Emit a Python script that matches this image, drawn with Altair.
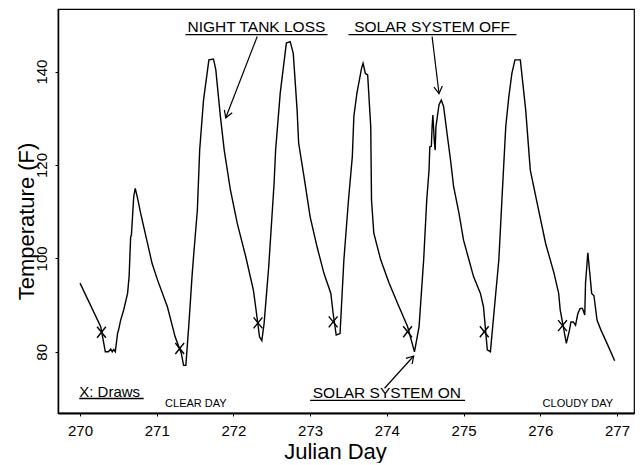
import math
import altair as alt
import pandas as pd

# ---- data ----
days = [270.00, 270.27, 270.31, 270.33, 270.37, 270.40, 270.42, 270.44, 270.46, 270.49,
        270.50, 270.53, 270.57, 270.62, 270.64, 270.66, 270.67, 270.70, 270.72, 270.75,
        270.79, 270.88, 270.94, 271.01, 271.14, 271.24, 271.32, 271.35, 271.38, 271.42,
        271.46, 271.48, 271.53, 271.56, 271.61, 271.68, 271.74, 271.77, 271.80, 271.83,
        271.88, 271.96, 272.05, 272.16, 272.26, 272.29, 272.34, 272.37, 272.40, 272.46,
        272.53, 272.55, 272.61, 272.69, 272.74, 272.78, 272.83, 272.85, 272.92, 273.00,
        273.09, 273.18, 273.27, 273.30, 273.34, 273.39, 273.44, 273.50, 273.55, 273.57,
        273.61, 273.67, 273.69, 273.72, 273.75, 273.79, 273.80, 273.83, 273.92, 274.03,
        274.16, 274.27, 274.36, 274.42, 274.48, 274.52, 274.55, 274.56, 274.58, 274.59,
        274.60, 274.62, 274.63, 274.64, 274.68, 274.71, 274.74, 274.79, 274.83, 274.87,
        274.94, 275.00, 275.07, 275.13, 275.22, 275.26, 275.31, 275.35, 275.40, 275.46,
        275.50, 275.55, 275.59, 275.63, 275.67, 275.74, 275.81, 275.87, 275.96, 276.07,
        276.18, 276.24, 276.26, 276.34, 276.38, 276.40, 276.43, 276.46, 276.49, 276.52,
        276.55, 276.58, 276.59, 276.62, 276.65, 276.67, 276.70, 276.74, 276.79, 276.87,
        276.97]
temps = [94.7, 85.4, 81.8, 80.0, 80.0, 80.6, 80.0, 80.5, 80.0, 84.0,
         84.5, 86.8, 89.0, 92.5, 96.1, 104.6, 105.0, 113.2, 115.0, 112.9,
         109.7, 103.2, 98.9, 95.4, 89.6, 83.2, 79.7, 77.1, 77.1, 86.1,
         96.1, 100.4, 110.4, 123.2, 133.9, 142.5, 142.7, 140.4, 135.4, 130.4,
         123.2, 114.7, 107.5, 100.4, 93.2, 89.6, 83.2, 82.4, 86.1, 98.2,
         116.1, 123.2, 135.4, 146.1, 146.4, 143.9, 131.8, 124.7, 117.5, 108.9,
         102.5, 96.8, 92.5, 88.2, 83.6, 83.9, 99.7, 112.5, 121.8, 130.4,
         135.4, 140.7, 141.8, 139.6, 139.3, 128.2, 112.5, 105.4, 99.7, 94.7,
         89.6, 85.4, 80.0, 85.4, 99.7, 112.5, 118.9, 123.9, 124.0, 128.2,
         130.7, 124.7, 123.2, 128.2, 132.9, 133.9, 132.5, 126.1, 121.1, 115.4,
         109.7, 103.9, 99.7, 96.1, 92.5, 89.6, 80.4, 80.0, 89.0, 99.7,
         112.5, 128.2, 134.6, 139.6, 142.5, 142.5, 131.8, 118.9, 111.8, 103.2,
         96.8, 92.5, 89.0, 81.8, 84.6, 86.4, 86.4, 85.7, 88.2, 89.3,
         89.3, 87.9, 94.7, 101.2, 96.1, 92.5, 92.0, 86.8, 84.7, 81.8,
         78.1]

draw_days = [270.28, 271.30, 272.32, 273.30, 274.27, 275.27, 276.29]
draw_temps = [84.2, 80.7, 86.2, 86.4, 84.3, 84.3, 85.6]

x_ticks = [270, 271, 272, 273, 274, 275, 276, 277]
y_ticks = [80, 100, 120, 140]

big_labels = ["NIGHT TANK LOSS", "SOLAR SYSTEM OFF", "SOLAR SYSTEM ON"]
big_label_days = [272.30, 274.59, 274.00]
big_label_temps = [148.4, 148.4, 70.1]

key_labels = ["X: Draws"]
key_days = [269.99]
key_temps = [70.4]

small_labels = ["CLEAR DAY", "CLOUDY DAY"]
small_days = [271.51, 276.49]
small_temps = [68.2, 68.2]

underline_start = [271.375, 273.50, 273.00, 269.99]
underline_end = [273.226, 275.69, 275.02, 270.83]
underline_temp = [147.9, 147.9, 69.6, 70.0]

arrow_day_from = [272.31, 274.59, 273.97]
arrow_temp_from = [147.5, 147.5, 72.2]
arrow_day_to = [271.90, 274.68, 274.35]
arrow_temp_to = [130.1, 135.3, 79.1]

# ---- layout ----
W, H = 576, 404
X0, X1 = 269.713, 277.222
Y0, Y1 = 66.9, 153.4
px_day = W / (X1 - X0)
px_deg = H / (Y1 - Y0)

FONT = "Liberation Sans"

xs = alt.Scale(domain=[X0, X1], nice=False, zero=False)
ys = alt.Scale(domain=[Y0, Y1], nice=False, zero=False)

series = pd.DataFrame({"day": days, "temp": temps})
draws = pd.DataFrame({"day": draw_days, "temp": draw_temps})
big = pd.DataFrame({"label": big_labels, "day": big_label_days, "temp": big_label_temps})
key = pd.DataFrame({"label": key_labels, "day": key_days, "temp": key_temps})
small = pd.DataFrame({"label": small_labels, "day": small_days, "temp": small_temps})
under = pd.DataFrame({"d1": underline_start, "d2": underline_end, "t": underline_temp})
angles = [
    math.degrees(math.atan2(-(t2 - t1) * px_deg, (d2 - d1) * px_day)) % 360
    for d1, t1, d2, t2 in zip(arrow_day_from, arrow_temp_from, arrow_day_to, arrow_temp_to)
]
arrows = pd.DataFrame({"d1": arrow_day_from, "t1": arrow_temp_from,
                       "d2": arrow_day_to, "t2": arrow_temp_to, "angle": angles})

x_axis = alt.Axis(values=x_ticks, format="d", title="Julian Day", grid=False,
                  labelFont=FONT, labelFontSize=15, labelColor="black",
                  titleFont=FONT, titleFontSize=22, titleFontWeight="normal", titleColor="black",
                  tickSize=3, tickColor="black", labelPadding=7,
                  domainColor="black", domainWidth=2,
                  titleX=277, titleY=45, titleBaseline="alphabetic")
y_axis = alt.Axis(values=y_ticks, title="Temperature (F)", grid=False,
                  labelFont=FONT, labelFontSize=15, labelColor="black",
                  labelAngle=270, labelAlign="center", labelBaseline="bottom",
                  labelPadding=6, tickSize=3, tickColor="black",
                  domainColor="black", domainWidth=1.5,
                  titleFont=FONT, titleFontSize=22, titleFontWeight="normal", titleColor="black",
                  titleAngle=270, titleX=-25, titleY=212, titleAlign="center",
                  titleBaseline="alphabetic")

line = alt.Chart(series).mark_line(color="black", strokeWidth=1.4).encode(
    x=alt.X("day:Q", scale=xs, axis=x_axis),
    y=alt.Y("temp:Q", scale=ys, axis=y_axis),
)

draw_marks = alt.Chart(draws).mark_point(
    shape="M-0.8,-1L0.8,1M-0.8,1L0.8,-1", filled=False, color="black",
    strokeWidth=1.4, size=121, opacity=1,
).encode(x=alt.X("day:Q", scale=xs), y=alt.Y("temp:Q", scale=ys))

big_text = alt.Chart(big).mark_text(
    font=FONT, fontSize=15.5, align="center", baseline="alphabetic", color="black"
).encode(x=alt.X("day:Q", scale=xs), y=alt.Y("temp:Q", scale=ys), text="label:N")

key_text = alt.Chart(key).mark_text(
    font=FONT, fontSize=15, align="left", baseline="alphabetic", color="black"
).encode(x=alt.X("day:Q", scale=xs), y=alt.Y("temp:Q", scale=ys), text="label:N")

small_text = alt.Chart(small).mark_text(
    font=FONT, fontSize=11, align="center", baseline="alphabetic", color="black"
).encode(x=alt.X("day:Q", scale=xs), y=alt.Y("temp:Q", scale=ys), text="label:N")

underlines = alt.Chart(under).mark_rule(color="black", strokeWidth=1.3).encode(
    x=alt.X("d1:Q", scale=xs), x2="d2:Q", y=alt.Y("t:Q", scale=ys)
)

arrow_lines = alt.Chart(arrows).mark_rule(color="black", strokeWidth=1.2).encode(
    x=alt.X("d1:Q", scale=xs), x2="d2:Q",
    y=alt.Y("t1:Q", scale=ys), y2="t2:Q",
)

arrow_heads = alt.Chart(arrows).mark_point(
    shape="M-1,-0.6L0,0L-1,0.6", filled=False, color="black",
    strokeWidth=1.2, size=196, opacity=1,
).encode(
    x=alt.X("d2:Q", scale=xs), y=alt.Y("t2:Q", scale=ys),
    angle=alt.Angle("angle:Q", scale=None),
)

chart = alt.layer(
    line, draw_marks, underlines, arrow_lines, arrow_heads, big_text, key_text, small_text
).properties(
    width=W, height=H,
    autosize=alt.AutoSizeParams(type="none"),
    padding={"left": 50, "top": 1, "right": 2, "bottom": 50},
    background="white",
).configure_view(stroke="black", strokeWidth=1.2)

chart.save("out.html", embed_options={"renderer": "svg", "actions": False})
